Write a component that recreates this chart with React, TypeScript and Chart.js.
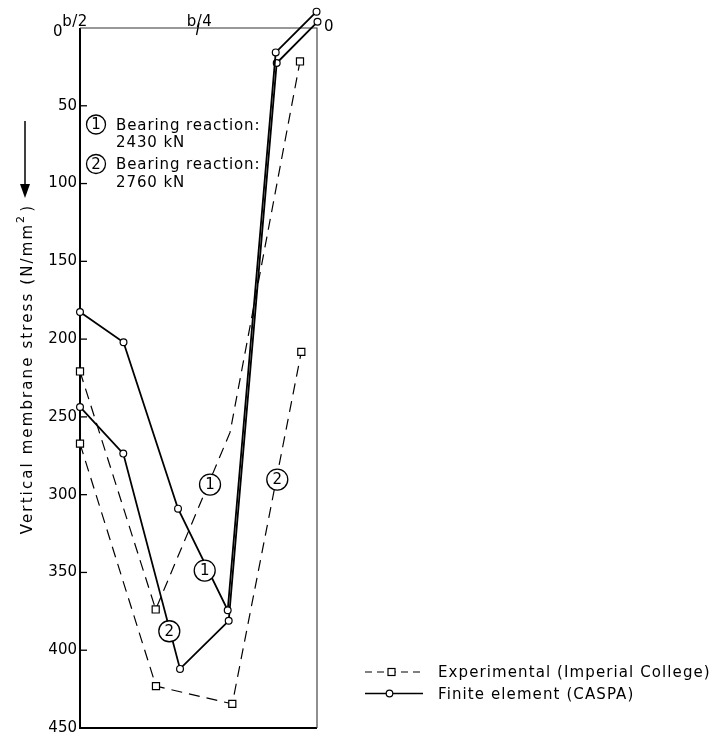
import React, { useEffect, useRef } from 'react';
import { Chart, registerables } from 'chart.js';

Chart.register(...registerables);

// x positions are measured across the half-width, in units of b (b/2 at the left edge, 0 at the right edge)
const xTickValues = [0.5, 0.25, 0];
const xTickLabels = ['b/2', 'b/4', '0'];
const yTickStep = 50;
const yMin = 0;
const yMax = 450;
const yHeadroom = -17; // room above 0 for the points that lie above the frame

// Finite element (CASPA) – case 1 (2430 kN) and case 2 (2760 kN)
const fe1X = [0.5, 0.4082, 0.2932, 0.1884, 0.0871, 0.001];
const fe1Y = [182.6, 202, 309, 374.3, 15.7, -10.5];
const fe2X = [0.5, 0.4087, 0.289, 0.1863, 0.085, -0.001];
const fe2Y = [243.6, 273.6, 412, 381.1, 22.5, -4.0];

// Experimental (Imperial College) – case 1 and case 2
const exp1X = [0.5, 0.3403, 0.1835, 0.0359];
const exp1Y = [220.8, 373.8, 260, 21.5];
const exp1Marked = [true, true, false, true];
const exp2X = [0.5, 0.3397, 0.1787, 0.0331];
const exp2Y = [267.2, 423.1, 434.5, 208.2];

// circled curve tags (data coordinates)
const tagText = ['1', '2', '1', '2'];
const tagX = [0.2257, 0.0838, 0.2369, 0.3116];
const tagY = [293.5, 290.3, 348.8, 387.8];

const noteNumbers = ['1', '2'];
const noteLines = ['Bearing reaction:', 'Bearing reaction:'];
const noteLoads = ['2430 kN', '2760 kN'];

const legendLabels = ['Experimental (Imperial College)', 'Finite element (CASPA)'];
const yTitleMain = 'Vertical membrane stress (N/mm';
const yTitleSup = '2';
const yTitleEnd = ')';

const FONT = '"DejaVu Sans", sans-serif';

const pts = (xs: number[], ys: number[]) => xs.map((x, i) => ({ x, y: ys[i] }));

const setSpacing = (ctx: any, v: string) => {
  try { ctx.letterSpacing = v; } catch (e) { /* ignore */ }
};

const decorPlugin = {
  id: 'decor',
  beforeDatasetsDraw(chart: any) {
    const { ctx, chartArea } = chart;
    const ys = chart.scales.y;
    const { left, right, bottom } = chartArea;
    const top = ys.getPixelForValue(yMin);
    ctx.save();
    ctx.strokeStyle = '#000';
    ctx.lineCap = 'butt';
    // frame
    ctx.lineWidth = 2;
    ctx.beginPath();
    ctx.moveTo(left, top);
    ctx.lineTo(left, bottom);
    ctx.lineTo(right, bottom);
    ctx.stroke();
    ctx.lineWidth = 1.1;
    ctx.strokeStyle = '#333';
    ctx.beginPath();
    ctx.moveTo(left, top);
    ctx.lineTo(right, top);
    ctx.lineTo(right, bottom);
    ctx.stroke();
    // inner tick marks
    ctx.strokeStyle = '#000';
    ctx.lineWidth = 1.3;
    for (let v = yMin + yTickStep; v < yMax; v += yTickStep) {
      const py = ys.getPixelForValue(v);
      ctx.beginPath();
      ctx.moveTo(left, py);
      ctx.lineTo(left + 7, py);
      ctx.stroke();
    }
    ctx.restore();
  },
  afterDatasetsDraw(chart: any) {
    const { ctx, chartArea } = chart;
    const xs = chart.scales.x;
    const ys = chart.scales.y;
    const top = ys.getPixelForValue(yMin);
    ctx.save();
    ctx.fillStyle = '#000';
    ctx.strokeStyle = '#000';

    // circled curve tags
    ctx.font = `15px ${FONT}`;
    ctx.textAlign = 'center';
    ctx.textBaseline = 'middle';
    tagText.forEach((t, i) => {
      const px = xs.getPixelForValue(tagX[i]);
      const py = ys.getPixelForValue(tagY[i]);
      ctx.beginPath();
      ctx.arc(px, py, 10.5, 0, Math.PI * 2);
      ctx.fillStyle = '#fff';
      ctx.fill();
      ctx.lineWidth = 1.3;
      ctx.stroke();
      ctx.fillStyle = '#000';
      ctx.fillText(t, px, py + 1);
    });

    // x-axis labels along the top edge
    ctx.font = `15px ${FONT}`;
    setSpacing(ctx, '0.5px');
    ctx.textBaseline = 'alphabetic';
    const xl = xs.getPixelForValue(xTickValues[0]);
    const xm = xs.getPixelForValue(xTickValues[1]);
    const xr = xs.getPixelForValue(xTickValues[2]);
    ctx.textAlign = 'center';
    ctx.fillText(xTickLabels[0], xl - 5, top - 2);
    ctx.fillText(xTickLabels[1], xm + 1, top - 2);
    ctx.lineWidth = 1.3;
    ctx.beginPath();
    ctx.moveTo(xm + 0.5, top - 5);
    ctx.lineTo(xm - 2, top + 7);
    ctx.stroke();
    ctx.textAlign = 'left';
    ctx.fillText(xTickLabels[2], xr + 7, top + 3);
    // y zero label
    ctx.textAlign = 'right';
    ctx.fillText(String(yMin), chartArea.left - 17, top + 8);

    // y-axis title
    ctx.save();
    ctx.translate(28, 369);
    ctx.rotate(-Math.PI / 2);
    ctx.font = `15px ${FONT}`;
    setSpacing(ctx, '2.1px');
    const wMain = ctx.measureText(yTitleMain).width;
    ctx.font = `11px ${FONT}`;
    const wSup = ctx.measureText(yTitleSup).width;
    ctx.font = `15px ${FONT}`;
    const wEnd = ctx.measureText(yTitleEnd).width;
    const total = wMain + wSup + 2 + wEnd;
    let cx = -total / 2;
    ctx.textAlign = 'left';
    ctx.textBaseline = 'middle';
    ctx.fillText(yTitleMain, cx, 0);
    cx += wMain;
    ctx.font = `11px ${FONT}`;
    ctx.fillText(yTitleSup, cx, -7);
    cx += wSup + 2;
    ctx.font = `15px ${FONT}`;
    ctx.fillText(yTitleEnd, cx, 0);
    ctx.restore();

    // arrow
    ctx.lineWidth = 1.5;
    ctx.beginPath();
    ctx.moveTo(25, 121);
    ctx.lineTo(25, 188);
    ctx.stroke();
    ctx.beginPath();
    ctx.moveTo(20, 184);
    ctx.lineTo(30, 184);
    ctx.lineTo(25, 198);
    ctx.closePath();
    ctx.fill();

    // notes
    ctx.font = `15px ${FONT}`;
    setSpacing(ctx, '0.9px');
    const noteTop = [124.5, 164];
    noteNumbers.forEach((n, i) => {
      const cy = noteTop[i];
      ctx.beginPath();
      ctx.arc(96, cy, 9.5, 0, Math.PI * 2);
      ctx.lineWidth = 1.3;
      ctx.stroke();
      ctx.textAlign = 'center';
      ctx.textBaseline = 'middle';
      ctx.fillText(n, 96.5, cy + 1);
      ctx.textAlign = 'left';
      ctx.textBaseline = 'alphabetic';
      ctx.fillText(noteLines[i], 116, cy + 5);
      ctx.fillText(noteLoads[i], 116, cy + 22.5);
    });

    // legend
    const lx0 = 365;
    const lx1 = 423;
    const ly = [672, 693.5];
    ctx.lineWidth = 1.2;
    ctx.setLineDash([7, 5]);
    ctx.beginPath();
    ctx.moveTo(lx0, ly[0]);
    ctx.lineTo(lx1, ly[0]);
    ctx.stroke();
    ctx.setLineDash([]);
    ctx.fillStyle = '#fff';
    ctx.fillRect(388, ly[0] - 3.5, 7, 7);
    ctx.strokeRect(388, ly[0] - 3.5, 7, 7);
    ctx.lineWidth = 1.6;
    ctx.beginPath();
    ctx.moveTo(lx0, ly[1]);
    ctx.lineTo(lx1, ly[1]);
    ctx.stroke();
    ctx.beginPath();
    ctx.arc(389.5, ly[1], 3.3, 0, Math.PI * 2);
    ctx.fill();
    ctx.lineWidth = 1.2;
    ctx.stroke();
    ctx.fillStyle = '#000';
    ctx.textAlign = 'left';
    ctx.textBaseline = 'alphabetic';
    setSpacing(ctx, '1.1px');
    ctx.fillText(legendLabels[0], 438, 677);
    ctx.fillText(legendLabels[1], 438, 699);
    ctx.restore();
  },
};

export default function App() {
  const ref = useRef<HTMLCanvasElement | null>(null);
  useEffect(() => {
    if (!ref.current) return;
    const common = { showLine: true, clip: false as any, borderColor: '#000', pointBackgroundColor: '#fff', pointBorderColor: '#000' };
    // chart area top chosen so that value 0 falls at the frame (y = 28) with 700 px for 0..450
    const padTop = 28 - (-yHeadroom) * (700 / (yMax - yMin));
    const chart = new Chart(ref.current, {
      type: 'scatter',
      data: {
        datasets: [
          {
            ...common,
            label: 'Experimental 1',
            data: pts(exp1X, exp1Y),
            borderWidth: 1.2,
            borderDash: [11, 7],
            pointStyle: 'rect',
            pointRadius: exp1Marked.map((m) => (m ? 5 : 0)),
            pointBorderWidth: 1.2,
          },
          {
            ...common,
            label: 'Experimental 2',
            data: pts(exp2X, exp2Y),
            borderWidth: 1.2,
            borderDash: [11, 7],
            pointStyle: 'rect',
            pointRadius: 5,
            pointBorderWidth: 1.2,
          },
          {
            ...common,
            label: 'Finite element 1',
            data: pts(fe1X, fe1Y),
            borderWidth: 1.8,
            pointStyle: 'circle',
            pointRadius: 3.4,
            pointBorderWidth: 1.2,
          },
          {
            ...common,
            label: 'Finite element 2',
            data: pts(fe2X, fe2Y),
            borderWidth: 1.8,
            pointStyle: 'circle',
            pointRadius: 3.4,
            pointBorderWidth: 1.2,
          },
        ] as any,
      },
      options: {
        responsive: false,
        animation: false,
        events: [],
        layout: { autoPadding: false, padding: { left: 0, top: padTop, right: 408, bottom: 8 } },
        plugins: { legend: { display: false }, tooltip: { enabled: false }, title: { display: false } },
        scales: {
          x: {
            type: 'linear',
            display: false,
            reverse: true,
            min: 0,
            max: 0.5,
          },
          y: {
            type: 'linear',
            reverse: true,
            min: yHeadroom,
            max: yMax,
            border: { display: false },
            grid: { display: false, drawTicks: false },
            ticks: {
              stepSize: yTickStep,
              padding: 3,
              color: '#000',
              font: { family: FONT, size: 15 },
              callback: (v: any) => (Number(v) === yMin ? '' : String(v)),
            },
            afterBuildTicks: (s: any) => {
              const out: any[] = [];
              for (let v = yMin; v <= yMax; v += yTickStep) out.push({ value: v });
              s.ticks = out;
            },
            afterFit: (s: any) => {
              s.width = 80;
              s.paddingTop = 0;
              s.paddingBottom = 0;
            },
          },
        },
      } as any,
      plugins: [decorPlugin],
    });
    return () => chart.destroy();
  }, []);
  return (
    <div style={{ position: 'absolute', left: 0, top: 0, width: 725, height: 736, background: '#fff' }}>
      <canvas ref={ref} width={725} height={736} style={{ display: 'block', width: 725, height: 736 }} />
    </div>
  );
}
